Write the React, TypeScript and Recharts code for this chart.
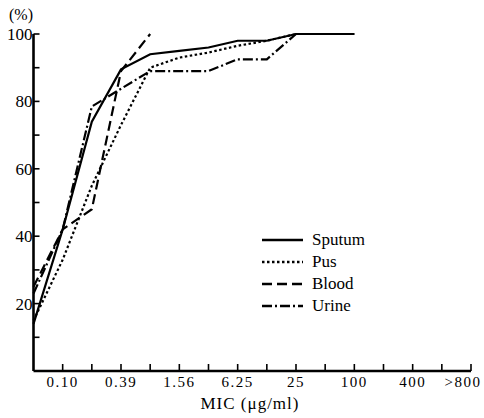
import { Label, Line, LineChart, XAxis, YAxis } from 'recharts'

const FONT = "'Liberation Serif', 'DejaVu Serif', serif"

// Two-fold dilution steps from 0.05 µg/ml; every other step carries a label
const micLabels = ['', '0.10', '', '0.39', '', '1.56', '', '6.25', '', '25', '', '100', '', '400', '', '>800']
const micSteps = micLabels.map((_, i) => i)
const percentTicks = [0, 10, 20, 30, 40, 50, 60, 70, 80, 90, 100]

// Cumulative % of strains inhibited at each step
const sputum = [14, 42, 74, 89.5, 94, 95, 96, 98, 98, 100, 100, 100]
const pus = [15, 33, 55, 73, 90, 93, 94.5, 96.5, 98, 100, 100, 100]
const blood = [25, 42, 48, 89, 100]
const urine = [23, 42, 78.5, null, 89, 89, 89, 92.5, 92.5, 100, 100, 100]

const data = sputum.map((_, i) => ({
  step: i,
  sputum: sputum[i],
  pus: pus[i],
  blood: blood[i] ?? null,
  urine: urine[i],
}))

const series = [
  { key: 'urine', name: 'Urine', dash: '10 3 2 3' },
  { key: 'blood', name: 'Blood', dash: '10 5' },
  { key: 'pus', name: 'Pus', dash: '2.5 2.5' },
  { key: 'sputum', name: 'Sputum', dash: undefined },
]
const legendOrder = ['sputum', 'pus', 'blood', 'urine']

function MicTick({ x, y, payload }: any) {
  const i = payload.value as number
  const label = micLabels[i]
  const last = i === micLabels.length - 1
  return (
    <g>
      {i > 0 && <line x1={x} x2={x} y1={y} y2={y - 7} stroke='#000' strokeWidth={1.6} />}
      {label && (
        <text
          x={last ? x - 8 : x}
          y={y + 16}
          textAnchor='middle'
          fontFamily={FONT}
          fontSize={15}
          letterSpacing={1.5}
          fill='#000'
        >
          {label}
        </text>
      )}
    </g>
  )
}

function PercentTick({ x, y, payload }: any) {
  const v = payload.value as number
  if (v === 0) return <g />
  return (
    <g>
      <line x1={x} x2={x + 6} y1={y} y2={y} stroke='#000' strokeWidth={1.6} />
      {v % 20 === 0 && (
        <text x={x - 1} y={y} dy='0.35em' textAnchor='end' fontFamily={FONT} fontSize={17} fill='#000'>
          {v}
        </text>
      )}
    </g>
  )
}

function LegendBox() {
  return (
    <div style={{ position: 'absolute', left: 262, top: 229, fontFamily: FONT, fontSize: 17 }}>
      {legendOrder.map(key => {
        const s = series.find(d => d.key === key)!
        return (
          <div key={key} style={{ display: 'flex', alignItems: 'center', height: 22 }}>
            <svg width={42} height={10}>
              <line x1={0} x2={41} y1={5} y2={5} stroke='#000' strokeWidth={2.4} strokeDasharray={s.dash} />
            </svg>
            <span style={{ marginLeft: 8 }}>{s.name}</span>
          </div>
        )
      })}
    </div>
  )
}

export default function App() {
  return (
    <div style={{ position: 'relative', width: 484, height: 418, background: '#fff' }}>
      <style>{'body { margin: 0; }'}</style>
      <LineChart width={484} height={418} data={data} margin={{ top: 34, right: 13, bottom: 46, left: 32.5 }}>
        <XAxis
          dataKey='step'
          type='number'
          domain={[0, 15]}
          ticks={micSteps}
          interval={0}
          height={1}
          tickSize={0}
          tickMargin={0}
          tick={<MicTick />}
          axisLine={{ stroke: '#000', strokeWidth: 2.6 }}
          tickLine={false}
        >
          <Label
            content={() => (
              <text x={250} y={409} textAnchor='middle' fontFamily={FONT} fontSize={17} letterSpacing={1} fill='#000'>
                MIC (μg/ml)
              </text>
            )}
          />
        </XAxis>
        <YAxis
          type='number'
          domain={[0, 100]}
          ticks={percentTicks}
          interval={0}
          width={1}
          tickSize={0}
          tickMargin={0}
          tick={<PercentTick />}
          axisLine={{ stroke: '#000', strokeWidth: 2.6 }}
          tickLine={false}
        >
          <Label
            content={() => (
              <text x={21} y={20} textAnchor='middle' fontFamily={FONT} fontSize={16} fill='#000'>
                (%)
              </text>
            )}
          />
        </YAxis>
        {series.map(s => (
          <Line
            key={s.key}
            dataKey={s.key}
            name={s.name}
            type='linear'
            stroke='#000'
            strokeWidth={2.2}
            strokeDasharray={s.dash}
            dot={false}
            activeDot={false}
            connectNulls={s.key === 'urine'}
            isAnimationActive={false}
          />
        ))}
      </LineChart>
      <LegendBox />
    </div>
  )
}
